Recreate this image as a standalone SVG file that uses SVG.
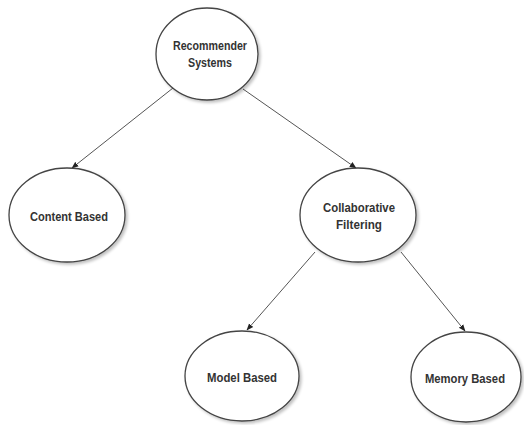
<svg xmlns="http://www.w3.org/2000/svg" width="524" height="425" viewBox="0 0 524 425">
<defs>
<marker id="arr" viewBox="0 0 10 10" refX="9" refY="5" markerWidth="7" markerHeight="7" orient="auto" markerUnits="userSpaceOnUse">
<path d="M0,1 L10,5 L0,9 Z" fill="#222"/>
</marker>
<filter id="sh" x="-20%" y="-20%" width="150%" height="150%">
<feGaussianBlur in="SourceAlpha" stdDeviation="1.5"/>
<feOffset dx="2" dy="2" result="b"/>
<feComponentTransfer><feFuncA type="linear" slope="0.25"/></feComponentTransfer>
<feMerge><feMergeNode/><feMergeNode in="SourceGraphic"/></feMerge>
</filter>
</defs>
<style>
.n ellipse{fill:#fff;stroke:#444;stroke-width:1.3;filter:url(#sh)}
.n text{font-family:"Liberation Sans",Arial,sans-serif;font-size:13px;font-weight:bold;fill:#333;text-anchor:middle}
.c line{stroke:#555;stroke-width:1;marker-end:url(#arr)}
</style>
<rect width="524" height="425" fill="#fff"/>
<g class="c" id="connectors">
<line x1="173" y1="88" x2="72" y2="168"/>
<line x1="243" y1="89" x2="356" y2="168"/>
<line x1="315" y1="252" x2="247" y2="330"/>
<line x1="401" y1="252" x2="465" y2="331"/>
</g>
<g class="n" id="recommender">
<ellipse cx="207" cy="54" rx="51" ry="46"/>
<text x="210" y="50" textLength="74" lengthAdjust="spacingAndGlyphs">Recommender</text>
<text x="210" y="67" textLength="44" lengthAdjust="spacingAndGlyphs">Systems</text>
</g>
<g class="n" id="content">
<ellipse cx="67" cy="215" rx="58" ry="47"/>
<text x="69" y="221" textLength="78" lengthAdjust="spacingAndGlyphs">Content Based</text>
</g>
<g class="n" id="collaborative">
<ellipse cx="358" cy="215" rx="58" ry="47"/>
<text x="359" y="212" textLength="72" lengthAdjust="spacingAndGlyphs">Collaborative</text>
<text x="359" y="229" textLength="46" lengthAdjust="spacingAndGlyphs">Filtering</text>
</g>
<g class="n" id="model">
<ellipse cx="242" cy="376" rx="57" ry="45"/>
<text x="242" y="382" textLength="70" lengthAdjust="spacingAndGlyphs">Model Based</text>
</g>
<g class="n" id="memory">
<ellipse cx="466" cy="377" rx="55" ry="45"/>
<text x="465" y="383" textLength="80" lengthAdjust="spacingAndGlyphs">Memory Based</text>
</g>
</svg>
